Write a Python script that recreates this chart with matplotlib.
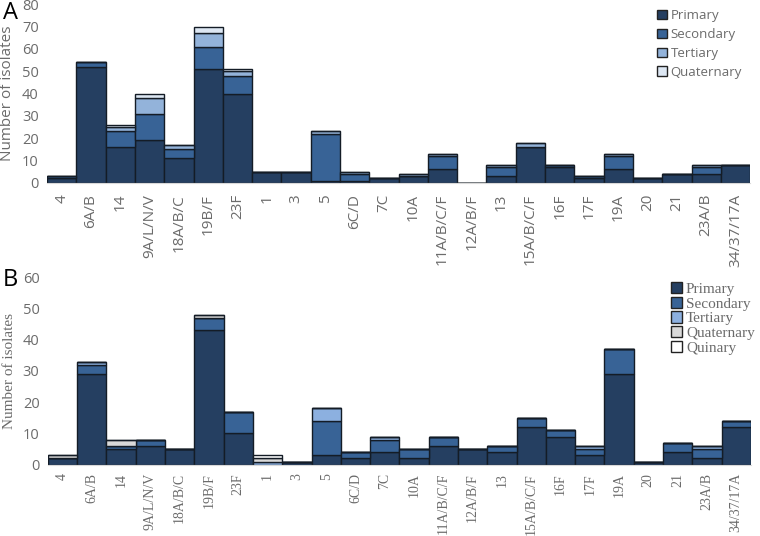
import matplotlib
matplotlib.use("Agg")
import matplotlib.pyplot as plt
import numpy as np

serotypes = ["4", "6A/B", "14", "9A/L/N/V", "18A/B/C", "19B/F", "23F", "1", "3", "5",
             "6C/D", "7C", "10A", "11A/B/C/F", "12A/B/F", "13", "15A/B/C/F", "16F",
             "17F", "19A", "20", "21", "23A/B", "34/37/17A"]

# panel A
a_primary    = [2, 52, 16, 19, 11, 51, 40, 5, 5, 1, 1, 2, 3, 6, 0, 3, 16, 7, 2, 6, 2, 4, 4, 8]
a_secondary  = [1, 2, 7, 12, 4, 10, 8, 0, 0, 21, 3, 0, 0, 6, 0, 4, 0, 1, 1, 6, 0, 0, 3, 0]
a_tertiary   = [0, 0, 2, 7, 2, 6, 2, 0, 0, 1, 1, 0, 1, 1, 0, 1, 2, 0, 0, 1, 0, 0, 1, 0]
a_quaternary = [0, 0, 1, 2, 0, 3, 1, 0, 0, 0, 0, 0, 0, 0, 0, 0, 0, 0, 0, 0, 0, 0, 0, 0]

# panel B
b_primary    = [2, 29, 5, 6, 5, 43, 10, 0, 1, 3, 2, 4, 2, 6, 5, 4, 12, 9, 3, 29, 1, 4, 2, 12]
b_secondary  = [0, 3, 1, 2, 0, 4, 7, 0, 0, 11, 2, 4, 3, 3, 0, 2, 3, 2, 2, 8, 0, 3, 3, 2]
b_tertiary   = [0, 1, 0, 0, 0, 0, 0, 1, 0, 4, 0, 1, 0, 0, 0, 0, 0, 0, 1, 0, 0, 0, 1, 0]
b_quaternary = [1, 0, 2, 0, 0, 1, 0, 1, 0, 0, 0, 0, 0, 0, 0, 0, 0, 0, 0, 0, 0, 0, 0, 0]
b_quinary    = [0, 0, 0, 0, 0, 0, 0, 1, 0, 0, 0, 0, 0, 0, 0, 0, 0, 0, 0, 0, 0, 0, 0, 0]

GREY = "#6b6b6b"
EDGE = "#141c26"

fig = plt.figure(figsize=(7.6, 5.36), dpi=100)

def stacked(ax, series, labels, colors, font, xsize, xpad, legsize, legspace, legpos):
    x = np.arange(len(serotypes))
    bottom = np.zeros(len(serotypes))
    for vals, lab, col in zip(series, labels, colors):
        vals = np.array(vals, dtype=float)
        ax.bar(x, vals, bottom=bottom, width=1.0, color=col, edgecolor=EDGE,
               linewidth=1.0, label=lab)
        bottom += vals
    ax.set_xlim(-0.5, len(serotypes) - 0.5)
    ax.set_xticks(x)
    ax.set_xticklabels(serotypes, rotation=90, fontsize=xsize, color=GREY, family=font)
    for t in ax.get_yticklabels():
        t.set_family("Open Sans")
        t.set_fontsize(10.5)
        t.set_color(GREY)
    ax.tick_params(axis="x", length=0, pad=xpad)
    ax.tick_params(axis="y", length=0, pad=6)
    for s in ["top", "right", "left"]:
        ax.spines[s].set_visible(False)
    ax.spines["bottom"].set_color("#d9d9d9")
    ax.set_ylabel("Number of isolates", fontsize=11, color=GREY, family=font, labelpad=5)
    leg = ax.legend(loc="upper right", bbox_to_anchor=legpos, bbox_transform=fig.transFigure,
                    frameon=False, handlelength=0.75, handleheight=0.75,
                    handletextpad=0.25, labelspacing=legspace, borderaxespad=0.0,
                    borderpad=0.0, prop={"family": font, "size": legsize})
    for t in leg.get_texts():
        t.set_color(GREY)
    for h in leg.legend_handles:
        h.set_edgecolor("#222222")
        h.set_linewidth(1.0)

axA = fig.add_axes([0.062, 0.659, 0.925, 0.333])
axA.set_ylim(0, 80)
axA.set_yticks(np.arange(0, 81, 10))
stacked(axA, [a_primary, a_secondary, a_tertiary, a_quaternary],
        ["Primary", "Secondary", "Tertiary", "Quaternary"],
        ["#253f61", "#386396", "#93b3da", "#dde7f3"], "Open Sans", 11, 8,
        9.5, 0.45, (0.976, 0.983))
fig.text(0.004, 0.975, "A", fontsize=17, family="Open Sans", va="center")

axB = fig.add_axes([0.063, 0.133, 0.925, 0.350])
axB.set_ylim(0, 60)
axB.set_yticks(np.arange(0, 61, 10))
stacked(axB, [b_primary, b_secondary, b_tertiary, b_quaternary, b_quinary],
        ["Primary", "Secondary", "Tertiary", "Quaternary", "Quinary"],
        ["#253f61", "#386396", "#8cb0e0", "#d9d9d9", "#ffffff"], "Liberation Serif",
        10, 6, 11, 0.05, (0.993, 0.474))
fig.text(0.004, 0.478, "B", fontsize=17, family="Open Sans", va="center")

fig.savefig("out.png", dpi=100)
